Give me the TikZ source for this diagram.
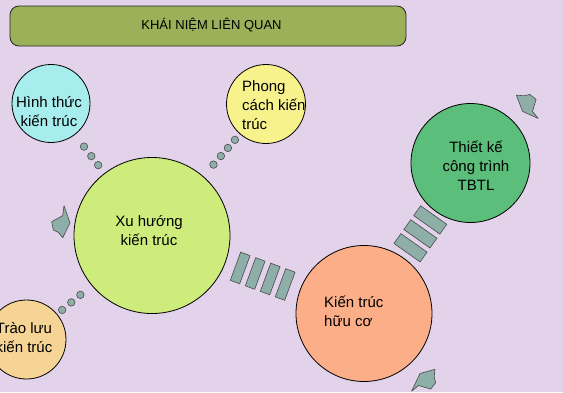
\documentclass[tikz,border=0pt]{standalone}
\usepackage{fontspec}
\setmainfont{Liberation Sans}
\usetikzlibrary{calc}
\definecolor{bgc}{HTML}{E2D3EA}
\definecolor{titlec}{HTML}{9BB159}
\definecolor{cyanc}{HTML}{A7EDEE}
\definecolor{yellowc}{HTML}{F7F28B}
\definecolor{limec}{HTML}{CDEC7B}
\definecolor{peachc}{HTML}{F6D495}
\definecolor{greenc}{HTML}{5BBE7A}
\definecolor{salmonc}{HTML}{FBAE88}
\definecolor{tealc}{HTML}{8EAFA8}
\definecolor{edgec}{HTML}{4A4A4A}
\tikzset{
  circ/.style={circle, draw=black, line width=0.8pt, inner sep=0pt, outer sep=0pt},
  txt/.style={align=center, font=\fontsize{15}{19}\selectfont, inner sep=0pt},
  txtl/.style={align=left, anchor=west, font=\fontsize{15}{19}\selectfont, inner sep=0pt},
  dot/.style={circle, fill=tealc, draw=edgec, line width=0.6pt, minimum size=7.5pt, inner sep=0pt},
  bar/.style={rectangle, fill=tealc, draw=edgec, line width=0.6pt, inner sep=0pt, sloped},
  blockarrow/.style={fill=tealc, draw=edgec, line width=0.6pt, line join=round}
}
\begin{document}
\begin{tikzpicture}[x=1pt,y=-1pt]
\fill[bgc] (0,0) rectangle (563,392);
\useasboundingbox (0,0) rectangle (563,392);

% title
\node[draw=black!85, line width=0.8pt, fill=titlec, rounded corners=9pt,
      minimum width=396pt, minimum height=40pt, inner sep=0pt] (title) at (208,26) {};
\node[font=\fontsize{13}{15}\selectfont, inner sep=0pt] (titletxt) at (211.5,25.5) {KHÁI NIỆM LIÊN QUAN};

% circles
\node[circ, fill=limec, minimum size=156pt] (xu) at (152,235.5) {};
\node[circ, fill=cyanc, minimum size=78pt] (hinh) at (51,103.5) {};
\node[circ, fill=yellowc, minimum size=79pt] (phong) at (266,104) {};
\node[circ, fill=peachc, minimum size=79pt] (trao) at (26.5,339.5) {};
\node[circ, fill=greenc, minimum size=119pt] (tk) at (470.5,163) {};
\node[circ, fill=salmonc, minimum size=136pt] (hc) at (364,313.5) {};

% texts
\node[txt] (thinh) at (49,112) {Hình thức\\kiến trúc};
\node[txtl] (tphong) at (242,105.5) {Phong\\cách kiến\\trúc};
\node[txt] (txu) at (149,231) {Xu hướng\\kiến trúc};
\node[txt] (ttrao) at (24,338) {Trào lưu\\kiến trúc};
\node[txt] (ttk) at (476,166) {Thiết kế\\công trình\\TBTL};
\node[txtl] (thc) at (324,311) {Kiến trúc\\hữu cơ};

% dotted connectors
\path (hinh) -- (xu)
  node[dot, pos=0.31] (da1) {} node[dot, pos=0.555] (da2) {} node[dot, pos=0.785] (da3) {};
\path (phong) -- (xu)
  node[dot, pos=0.14] (db1) {} node[dot, pos=0.33] (db2) {} node[dot, pos=0.52] (db3) {} node[dot, pos=0.72] (db4) {};
\path (trao) -- (xu)
  node[dot, pos=0.15] (dc1) {} node[dot, pos=0.41] (dc2) {} node[dot, pos=0.67] (dc3) {};

% bar connectors
\path (xu) -- (hc)
  node[bar, minimum width=10pt, minimum height=30pt, pos=0.2] (ba1) {}
  node[bar, minimum width=10pt, minimum height=30pt, pos=0.4] (ba2) {}
  node[bar, minimum width=10pt, minimum height=30pt, pos=0.6] (ba3) {}
  node[bar, minimum width=10pt, minimum height=30pt, pos=0.8] (ba4) {};
\path (hc) -- (tk)
  node[bar, minimum width=12pt, minimum height=32pt, pos=0.22] (bb1) {}
  node[bar, minimum width=12pt, minimum height=32pt, pos=0.52] (bb2) {}
  node[bar, minimum width=12pt, minimum height=32pt, pos=0.82] (bb3) {};

% block arrows (drawn directly)
\filldraw[blockarrow] (51.7,221.7) -- (62.7,215.7) -- (64,205.7) -- (70,223)
  -- (62.7,237.7) -- (58.3,232.3) -- (53.3,230) -- cycle;
\filldraw[blockarrow] (536.1,99.3) -- (532.5,111.4) -- (538.2,118.4) -- (522.6,111.4)
  -- (516.3,95.1) -- (524,95.8) -- (529.7,94.4) -- cycle;
\filldraw[blockarrow] (430.7,389.1) -- (418.6,385.5) -- (411.6,391.2) -- (420,373.5)
  -- (434.9,369.3) -- (434.2,377.1) -- (435.6,382.7) -- cycle;
\end{tikzpicture}
\end{document}
